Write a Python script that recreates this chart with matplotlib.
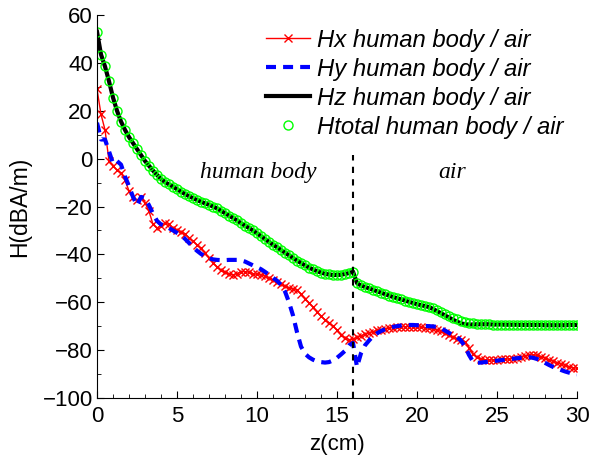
import numpy as np
import matplotlib
matplotlib.use("Agg")
import matplotlib.pyplot as plt
from matplotlib.ticker import MultipleLocator

# position z (cm), pas de 0.25
z = [0.0, 0.25, 0.5, 0.75, 1.0, 1.25, 1.5, 1.75, 2.0, 2.25, 2.5, 2.75,
     3.0, 3.25, 3.5, 3.75, 4.0, 4.25, 4.5, 4.75, 5.0, 5.25, 5.5, 5.75,
     6.0, 6.25, 6.5, 6.75, 7.0, 7.25, 7.5, 7.75, 8.0, 8.25, 8.5, 8.75,
     9.0, 9.25, 9.5, 9.75, 10.0, 10.25, 10.5, 10.75, 11.0, 11.25, 11.5, 11.75,
     12.0, 12.25, 12.5, 12.75, 13.0, 13.25, 13.5, 13.75, 14.0, 14.25, 14.5, 14.75,
     15.0, 15.25, 15.5, 15.75, 16.0, 16.25, 16.5, 16.75, 17.0, 17.25, 17.5, 17.75,
     18.0, 18.25, 18.5, 18.75, 19.0, 19.25, 19.5, 19.75, 20.0, 20.25, 20.5, 20.75,
     21.0, 21.25, 21.5, 21.75, 22.0, 22.25, 22.5, 22.75, 23.0, 23.25, 23.5, 23.75,
     24.0, 24.25, 24.5, 24.75, 25.0, 25.25, 25.5, 25.75, 26.0, 26.25, 26.5, 26.75,
     27.0, 27.25, 27.5, 27.75, 28.0, 28.25, 28.5, 28.75, 29.0, 29.25, 29.5, 29.75,
     30.0]

hx = [29, 18.5, 12, -1, -3, -4.8, -6, -9, -13.5, -16, -17.3, -16,
      -18.5, -22, -27.5, -29, -28, -27, -27.5, -29, -30, -30.5, -31.5, -33,
      -34.5, -36, -37.5, -39.5, -41.5, -43.5, -45.2, -46.7, -47.5, -48.2, -48.6, -48,
      -47.3, -47.2, -47.5, -48, -48.4, -48.6, -49, -49.8, -50.7, -51.6, -52.5, -53.3,
      -54, -54.5, -55, -56.5, -58.5, -60.2, -62, -64, -65.8, -67.3, -68.5, -70,
      -71.6, -73.5, -74.8, -75.6, -75.5, -74.6, -74, -73.3, -72.8, -72.3, -71.8, -71.4,
      -71.1, -70.8, -70.6, -70.4, -70.3, -70.2, -70.2, -70.2, -70.3, -70.4, -70.6, -70.9,
      -71.2, -71.6, -72.2, -73, -73.8, -74.6, -75.2, -75.6, -76.5, -79, -81.5, -83,
      -83.8, -84.1, -84.2, -84.1, -84, -83.9, -83.8, -83.7, -83.5, -83.2, -82.8, -82.4,
      -82.1, -82, -82.2, -82.7, -83.3, -84, -84.6, -85.2, -85.8, -86.4, -86.9, -87.3,
      -87.6]

hy = [15, 8, 8, 3, -2, -1, -2.5, -7.5, -11.5, -16, -19.5, -16,
      -16.5, -19.5, -23, -26, -27.5, -28, -29, -30, -31, -32, -33.5, -35.2,
      -37, -38.5, -39.8, -40.8, -41.6, -42.1, -42.3, -42.4, -42.4, -42.3, -42.3, -42.3,
      -42.5, -43, -43.8, -44.6, -45.4, -46.2, -47.3, -48.5, -49.8, -51, -52.7, -55.5,
      -60, -65.5, -72.5, -78.5, -81.5, -83, -84, -84.7, -85, -85.2, -85, -84.3,
      -83.2, -81.8, -80.3, -78, -77, -87, -81.3, -78, -76, -74.2, -73, -72,
      -71.3, -70.8, -70.3, -70, -69.7, -69.5, -69.5, -69.5, -69.6, -69.7, -69.9, -70,
      -70.1, -70.3, -70.9, -71.8, -72.8, -73.7, -74.5, -76, -78.5, -82, -84.8, -85.3,
      -85.2, -85, -84.8, -84.6, -84.4, -84.2, -84, -83.8, -83.6, -83.4, -83.2, -83,
      -83, -83.2, -83.7, -84.4, -85.3, -86.2, -87, -87.7, -88.3, -88.9, -89.4, -89.8,
      -90.1]

htot = [53, 43.5, 38.5, 32.3, 25.5, 20, 15.5, 12, 9, 6.5, 4, 1.5,
        -1, -3, -5, -6.8, -8.5, -9.8, -10.8, -11.7, -12.8, -13.8, -14.8, -15.7,
        -16.5, -17.3, -18, -18.7, -19.3, -20, -20.8, -21.8, -22.8, -23.8, -24.8, -25.8,
        -27, -28, -29, -30, -31.2, -32.4, -33.6, -34.8, -36, -37, -38.2, -39.3,
        -40.4, -41.5, -42.6, -43.6, -44.6, -45.5, -46.3, -47, -47.6, -48.1, -48.4, -48.6,
        -48.6, -48.5, -48.2, -47.8, -47.2, -52, -53, -53.6, -54.2, -54.8, -55.4, -56,
        -56.6, -57.2, -57.8, -58.3, -58.8, -59.3, -59.8, -60.3, -60.8, -61.2, -61.6, -62,
        -62.6, -63.3, -64, -64.8, -65.6, -66.4, -67.2, -67.8, -68.3, -68.6, -68.8, -69,
        -69.1, -69.2, -69.2, -69.3, -69.3, -69.3, -69.4, -69.4, -69.4, -69.4, -69.5, -69.5,
        -69.5, -69.5, -69.5, -69.5, -69.6, -69.6, -69.6, -69.6, -69.6, -69.6, -69.5, -69.5,
        -69.5]

hz = [53, 43.5, 38.5, 32.3, 25.5, 20, 15.5, 12, 9, 6.5, 4, 1.5,
      -1, -3, -5, -6.8, -8.5, -9.8, -10.8, -11.7, -12.8, -13.8, -14.8, -15.7,
      -16.5, -17.3, -18, -18.7, -19.3, -20, -20.8, -21.8, -22.8, -23.8, -24.8, -25.8,
      -27, -28, -29, -30, -31.2, -32.4, -33.6, -34.8, -36, -37, -38.2, -39.3,
      -40.4, -41.5, -42.6, -43.6, -44.6, -45.5, -46.3, -47, -47.6, -48.1, -48.4, -48.6,
      -48.6, -48.5, -48.2, -47.8, -47.2, -52, -53, -53.6, -54.2, -54.8, -55.4, -56,
      -56.6, -57.2, -57.8, -58.3, -58.8, -59.3, -59.8, -60.3, -60.8, -61.2, -61.6, -62,
      -62.8, -63.7, -64.6, -65.5, -66.4, -67.3, -68.1, -68.8, -69.2, -69.3, -69.3, -69.2,
      -69.2, -69.2, -69.2, -69.3, -69.3, -69.3, -69.4, -69.4, -69.4, -69.4, -69.5, -69.5,
      -69.5, -69.5, -69.5, -69.5, -69.6, -69.6, -69.6, -69.6, -69.6, -69.6, -69.5, -69.5,
      -69.5]

labels = ["Hx human body / air", "Hy human body / air",
          "Hz human body / air", "Htotal human body / air"]
z_interface = 16
regions = ["human body", "air"]

plt.rcParams['font.family'] = ['Liberation Sans', 'DejaVu Sans']

fig = plt.figure(figsize=(5.93, 4.59), dpi=100)
ax = fig.add_axes([0.1636, 0.1329, 0.8094, 0.8344])

ax.plot(z, hx, color='red', lw=1, marker='x', ms=6, mew=1, label=labels[0])
ax.plot(z, hy, color='blue', lw=3, dashes=(2.4, 1.7), label=labels[1])
ax.plot(z, hz, color='black', lw=3, label=labels[2])
ax.plot(z, htot, ls='none', marker='o', ms=6.5, mfc='none', mec=(0, 1, 0),
        mew=1, label=labels[3])

ax.plot([z_interface, z_interface], [-100, 1.5], color='black', lw=1.5,
        dashes=(3, 3))

ax.text(10.1, -5.6, regions[0], family='Liberation Serif', style='italic',
        fontsize=17, ha='center', va='center')
ax.text(22.2, -5.6, regions[1], family='Liberation Serif', style='italic',
        fontsize=17, ha='center', va='center')

ax.set_xlim(0, 30)
ax.set_ylim(-100, 60)
ax.xaxis.set_major_locator(MultipleLocator(5))
ax.xaxis.set_minor_locator(MultipleLocator(1))
ax.yaxis.set_major_locator(MultipleLocator(20))
ax.yaxis.set_minor_locator(MultipleLocator(10))
ax.tick_params(which='both', direction='in', labelsize=16, top=False, right=False)
ax.tick_params(which='major', length=5)
ax.tick_params(which='minor', length=3)
ax.tick_params(axis='x', which='major', pad=6)
ax.tick_params(axis='y', which='major', pad=3)
ax.spines['top'].set_visible(False)
ax.spines['right'].set_visible(False)

ax.set_xlabel("z(cm)", fontsize=16, labelpad=5)
ax.set_ylabel("H(dBA/m)", fontsize=16.5, labelpad=8)

leg = ax.legend(loc='upper left', bbox_to_anchor=(0.352, 0.964), frameon=False,
                prop={'style': 'italic', 'size': 17.2}, handlelength=1.84,
                handletextpad=0.29, labelspacing=0.25, borderaxespad=0,
                borderpad=0)

fig.savefig("out.png", dpi=100)
